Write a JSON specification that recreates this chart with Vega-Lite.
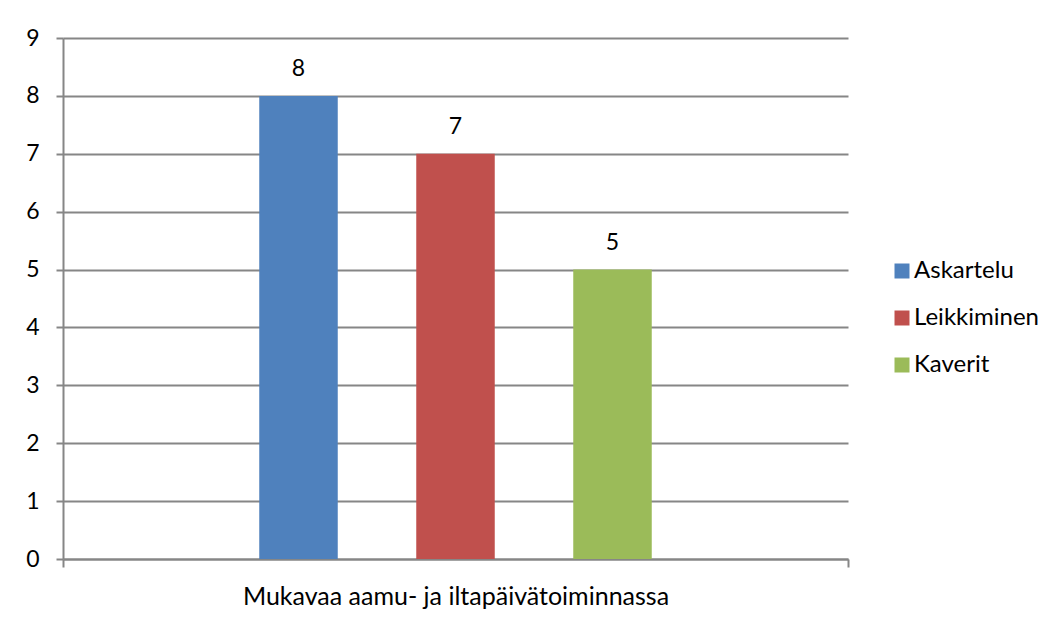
{
  "$schema": "https://vega.github.io/schema/vega-lite/v6.json",
  "width": 785,
  "height": 521,
  "autosize": {"type": "none"},
  "padding": {"left": 63, "top": 38, "right": 212, "bottom": 62},
  "background": "white",
  "data": {"values": [
    {"cat": "Mukavaa aamu- ja iltapäivätoiminnassa", "series": "Askartelu", "value": 8},
    {"cat": "Mukavaa aamu- ja iltapäivätoiminnassa", "series": "Leikkiminen", "value": 7},
    {"cat": "Mukavaa aamu- ja iltapäivätoiminnassa", "series": "Kaverit", "value": 5}
  ]},
  "encoding": {
    "x": {"field": "cat", "type": "nominal", "title": null,
      "scale": {"paddingInner": 0, "paddingOuter": 0},
      "axis": {"labelAngle": 0, "labelFontSize": 25, "labelFont": "Lato", "labelColor": "#000000", "labelPadding": 17, "labelLimit": 0,
        "tickBand": "extent", "tickSize": 8, "tickColor": "#868686", "domainColor": "#868686", "domainWidth": 2, "tickWidth": 2}},
    "xOffset": {"field": "series", "type": "nominal", "sort": ["Askartelu", "Leikkiminen", "Kaverit"],
      "scale": {"range": [157, 628], "paddingInner": 0.5, "paddingOuter": 0.25}},
    "y": {"field": "value", "type": "quantitative", "title": null,
      "scale": {"domain": [0, 9]},
      "axis": {"values": [0,1,2,3,4,5,6,7,8,9], "labelFontSize": 23, "labelFont": "Lato", "labelColor": "#000000",
        "labelPadding": 17, "tickSize": 7, "tickColor": "#868686", "tickWidth": 2, "domainColor": "#868686", "domainWidth": 2,
        "gridColor": "#868686", "gridWidth": 2}}
  },
  "layer": [
    {"mark": {"type": "bar"},
      "encoding": {
        "color": {"field": "series", "type": "nominal", "sort": ["Askartelu", "Leikkiminen", "Kaverit"],
          "scale": {"domain": ["Askartelu", "Leikkiminen", "Kaverit"], "range": ["#4F81BD", "#C0504D", "#9BBB59"]},
          "legend": {"title": null, "orient": "none", "legendX": 827, "legendY": 221, "symbolType": "square",
            "symbolSize": 225, "symbolStrokeWidth": 0, "labelFontSize": 24, "labelFont": "Lato", "labelColor": "#000000",
            "rowPadding": 23, "labelOffset": 0}
        }
      }},
    {"mark": {"type": "text", "dy": -27, "fontSize": 23, "font": "Lato", "color": "#000000"},
      "encoding": {"text": {"field": "value", "type": "quantitative"}}}
  ],
  "config": {"view": {"stroke": null}}
}
